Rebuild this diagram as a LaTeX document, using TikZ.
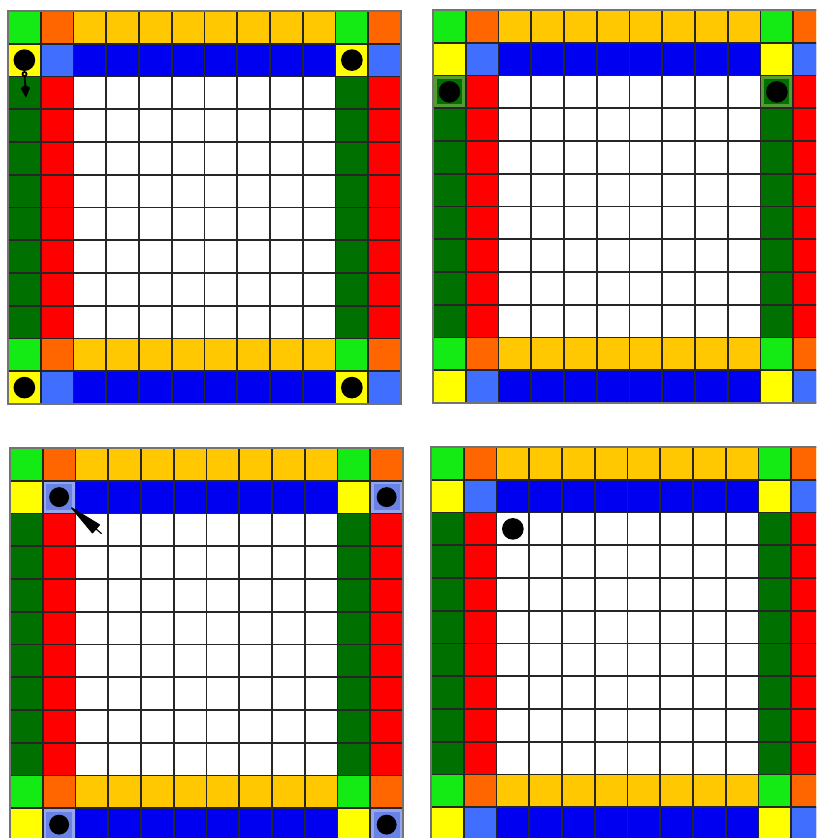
\documentclass[tikz,border=0pt]{standalone}
\usetikzlibrary{arrows.meta}
\definecolor{lgr}{RGB}{20,235,20}
\definecolor{org}{RGB}{255,102,0}
\definecolor{gld}{RGB}{255,200,0}
\definecolor{ylw}{RGB}{255,255,0}
\definecolor{lbl}{RGB}{64,110,255}
\definecolor{blu}{RGB}{0,0,240}
\definecolor{dgr}{RGB}{0,112,0}
\definecolor{rd}{RGB}{255,0,0}
\definecolor{hgr}{RGB}{85,155,50}
\definecolor{hbl}{RGB}{150,165,240}
\definecolor{hblin}{RGB}{105,130,230}

% one 12x12 board, #1 = extra cells drawn before the grid
\newcommand{\drawboard}[1]{%
  \foreach \r/\a/\b/\m in {0/lgr/org/gld, 1/ylw/lbl/blu,
                           2/dgr/rd/white, 3/dgr/rd/white, 4/dgr/rd/white,
                           5/dgr/rd/white, 6/dgr/rd/white, 7/dgr/rd/white,
                           8/dgr/rd/white, 9/dgr/rd/white,
                           10/lgr/org/gld, 11/ylw/lbl/blu}{
    \fill[\m] (0,\r) rectangle (12,\r+1);
    \fill[\a] (0,\r) rectangle +(1,1) (10,\r) rectangle +(1,1);
    \fill[\b] (1,\r) rectangle +(1,1) (11,\r) rectangle +(1,1);
  }
  #1
  \foreach \i in {0,...,12}{
    \draw[black!85, line width=1.4pt] (\i,0) -- (\i,12) (0,\i) -- (12,\i);
  }
  \draw[black!55, line width=1.4pt] (0,0) rectangle (12,12);
}

\tikzset{dot/.style={circle, fill=black, inner sep=0pt, minimum size=18.5pt}}

\begin{document}
\begin{tikzpicture}[x=0.3mm, y=-0.3mm]
    \useasboundingbox (0,0) rectangle (816,838);
    \fill[white] (0,0) rectangle (816,838);
    \clip (0,0) rectangle (816,838);

    % top left
    \begin{scope}[shift={(8,11)}, scale=32.75]
        \drawboard{}
        \node[dot] (tlA) at (0.5,1.5) {};
        \node[dot] (tlB) at (10.5,1.5) {};
        \node[dot] (tlC) at (0.5,11.5) {};
        \node[dot] (tlD) at (10.5,11.5) {};
        \coordinate (tlTip) at (0.55,2.65);
        \draw[{Circle[open,length=5pt]}-{Kite[length=11pt,width=8pt]}, line width=1.5pt]
            (tlA.south) -- (tlTip);
    \end{scope}

    % top right
    \begin{scope}[shift={(433,10)}, scale=32.75]
        \drawboard{
            \foreach \c in {0,10}{
                \fill[hgr] (\c,2) rectangle +(1,1);
                \fill[dgr] (\c+0.12,2.12) rectangle +(0.76,0.76);
            }
        }
        \node[dot] (trA) at (0.5,2.5) {};
        \node[dot] (trB) at (10.5,2.5) {};
    \end{scope}

    % bottom left
    \begin{scope}[shift={(10,448)}, scale=32.75]
        \drawboard{
            \foreach \c/\r in {1/1,11/1,1/11,11/11}{
                \fill[hbl] (\c,\r) rectangle +(1,1);
                \fill[hblin] (\c+0.1,\r+0.1) rectangle +(0.8,0.8);
            }
        }
        \node[dot, minimum size=17pt] (blA) at (1.5,1.5) {};
        \node[dot, minimum size=17pt] (blB) at (11.5,1.5) {};
        \node[dot, minimum size=17pt] (blC) at (1.5,11.5) {};
        \node[dot, minimum size=17pt] (blD) at (11.5,11.5) {};
        \coordinate (blTail) at (2.8,2.62);
        \draw[-{Triangle[length=31pt,width=10pt,round]}, line width=1pt, shorten >=5pt]
            (blTail) -- (blA);
    \end{scope}

    % bottom right
    \begin{scope}[shift={(431,447)}, scale=32.75]
        \drawboard{}
        \node[dot] (brA) at (2.5,2.5) {};
    \end{scope}
\end{tikzpicture}
\end{document}
